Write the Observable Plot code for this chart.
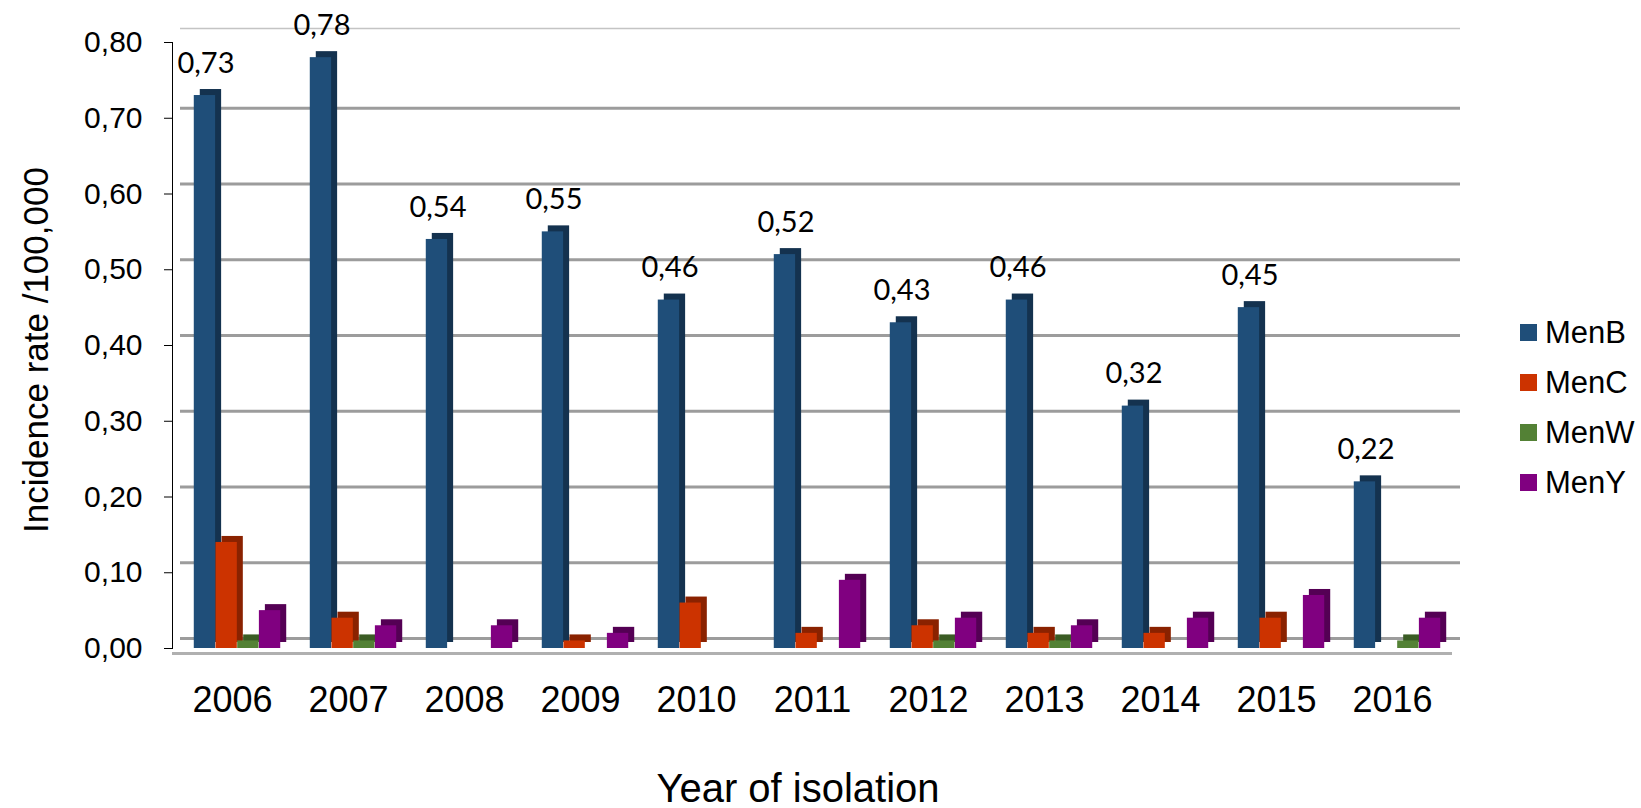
<!DOCTYPE html>
<html>
<head>
<meta charset="utf-8">
<script src="https://cdn.jsdelivr.net/npm/d3@7"></script>
<script src="https://cdn.jsdelivr.net/npm/@observablehq/plot@0.6"></script>
<style>
  html, body { margin: 0; padding: 0; background: #fff; }
  #wrap { position: relative; width: 1641px; height: 808px; font-family: "Liberation Sans", Arial, sans-serif; }
  #wrap svg g[aria-label="y-axis tick label"], #wrap svg g[aria-label="y-axis tick label"] text { font-size: 30px; }
  #wrap svg g[aria-label="x-axis tick label"], #wrap svg g[aria-label="x-axis tick label"] text { font-size: 36px; }
  #ytitle { position: absolute; left: 35px; top: 350px; transform: translate(-50%, -50%) rotate(-90deg); white-space: nowrap; font-size: 35px; line-height: 1; color: #000; }
  #xtitle { position: absolute; left: 798px; top: 768px; transform: translate(-50%, 0); white-space: nowrap; font-size: 40px; line-height: 1; color: #000; }
  #legend { position: absolute; left: 1520px; top: 307.5px; font-size: 31px; color: #000; }
  #legend .row { display: flex; align-items: center; height: 50px; }
  #legend .sw { width: 17px; height: 17px; margin-right: 8px; }
</style>
</head>
<body>
<div id="wrap"></div>
<script>
const years = ["2006","2007","2008","2009","2010","2011","2012","2013","2014","2015","2016"];
const series = ["MenB","MenC","MenW","MenY"];
const menB = [0.73,0.78,0.54,0.55,0.46,0.52,0.43,0.46,0.32,0.45,0.22];
const menC = [0.14,0.04,0.00,0.01,0.06,0.02,0.03,0.02,0.02,0.04,0.00];
const menW = [0.01,0.01,0.00,0.00,0.00,0.00,0.01,0.01,0.00,0.00,0.01];
const menY = [0.05,0.03,0.03,0.02,0.00,0.09,0.04,0.03,0.04,0.07,0.04];
const yTicks = [0,0.1,0.2,0.3,0.4,0.5,0.6,0.7,0.8];
const yTitle = "Incidence rate /100,000";
const xTitle = "Year of isolation";
const frontColors = ["#1F4E79","#CC3300","#538135","#800080"];
const sideColors = ["#14324F","#8A2200","#3A5C24","#540054"];

const values = [menB, menC, menW, menY];
const data = years.flatMap((yr, i) => series.map((s, j) => ({year: yr, series: s, value: values[j][i]})));
const comma = d => d.toFixed(2).replace(".", ",");

const W = 1641, H = 808, ML = 172, MR = 189, MT = 42, MB = 160;
const step = (W - ML - MR) / years.length;
const barW = 21.7;
const inset = (step - barW) / 2;
const depth = 6;
const offset = j => (j - 1.5) * barW + 5;

const marks = [
  Plot.ruleY(yTicks.slice(0, -1), {dx: 8, dy: -10, stroke: "#9c9c9c", strokeWidth: 3}),
  Plot.ruleY(yTicks.slice(-1), {dx: 8, dy: -14, stroke: "#c4c4c4", strokeWidth: 1.5}),
  Plot.ruleY([0], {dy: 5, stroke: "#b0b0b0", strokeWidth: 3})
];
series.forEach((s, j) => {
  marks.push(Plot.barY(data.filter(d => d.series === s), {
    x: "year", y: "value", fill: sideColors[j], dx: offset(j) + depth, dy: -depth,
    insetLeft: inset, insetRight: inset
  }));
});
series.forEach((s, j) => {
  marks.push(Plot.barY(data.filter(d => d.series === s), {
    x: "year", y: "value", fill: frontColors[j], dx: offset(j),
    insetLeft: inset, insetRight: inset
  }));
});
marks.push(Plot.text(data.filter(d => d.series === "MenB"), {
  x: "year", y: "value", text: d => comma(d.value), dx: offset(0) + 1, dy: -32,
  fontSize: 29, fontFamily: "Lato, 'Open Sans', sans-serif", fill: "#000"
}));

const chart = Plot.plot({
  width: W, height: H,
  marginLeft: ML, marginRight: MR, marginTop: MT, marginBottom: MB,
  style: {fontFamily: "'Liberation Sans', Arial, sans-serif", fontSize: "30px", color: "#000", background: "#fff"},
  x: {domain: years, padding: 0, tickSize: 0, tickPadding: 38, label: null},
  y: {domain: [0, 0.8], ticks: yTicks, tickFormat: comma, tickSize: 8, tickPadding: 22, line: true, label: null},
  marks
});
const wrap = document.getElementById("wrap");
wrap.appendChild(chart);

const yt = document.createElement("div");
yt.id = "ytitle";
yt.textContent = yTitle;
wrap.appendChild(yt);

const xt = document.createElement("div");
xt.id = "xtitle";
xt.textContent = xTitle;
wrap.appendChild(xt);

const legend = document.createElement("div");
legend.id = "legend";
series.forEach((s, j) => {
  const row = document.createElement("div");
  row.className = "row";
  const sw = document.createElement("div");
  sw.className = "sw";
  sw.style.background = frontColors[j];
  const lab = document.createElement("span");
  lab.textContent = s;
  row.appendChild(sw); row.appendChild(lab);
  legend.appendChild(row);
});
wrap.appendChild(legend);
</script>
</body>
</html>
